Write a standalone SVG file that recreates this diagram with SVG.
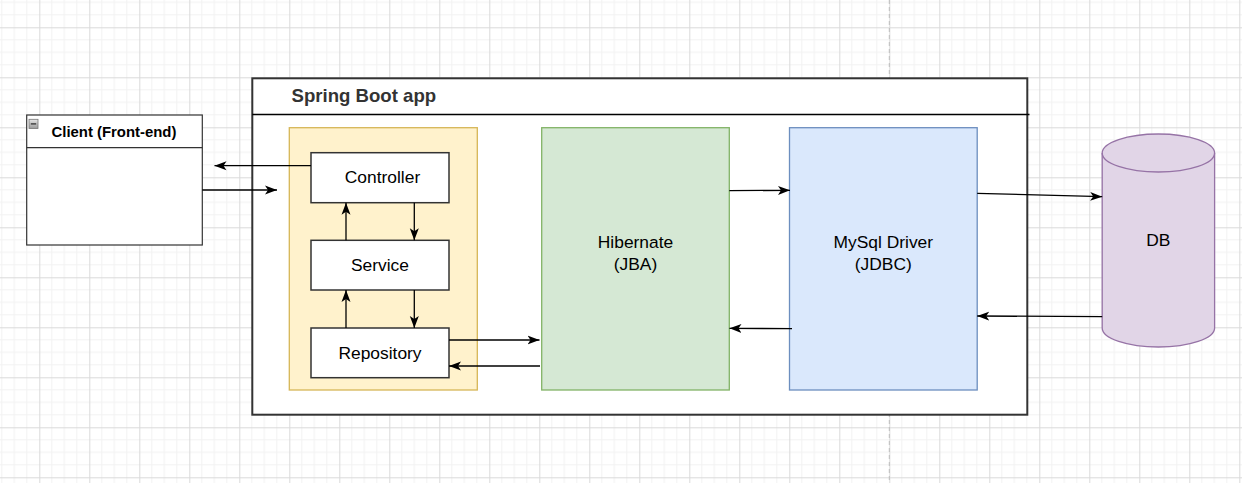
<svg xmlns="http://www.w3.org/2000/svg" width="1242" height="483" viewBox="0 0 1242 483">
  <style>
    .lbl { font-family: "Liberation Sans", Arial, sans-serif; font-size: 17.4px; fill: #000; text-anchor: middle; }
    .box { fill: #fff; stroke: #333; stroke-width: 1.5; }
    .edge { fill: none; stroke: #000; stroke-width: 1.3; marker-end: url(#arr); }
  </style>
  <defs>
    <pattern id="grid" x="39.3" y="27.3" width="50" height="50" patternUnits="userSpaceOnUse">
      <rect width="50" height="50" fill="#fff"/>
      <path d="M12.5,0V50M25,0V50M37.5,0V50M0,12.5H50M0,25H50M0,37.5H50" stroke="#f2f2f2" stroke-width="1"/>
      <path d="M0.5,0V50M0,0.5H50" stroke="#dadada" stroke-width="1"/>
    </pattern>
    <marker id="arr" markerUnits="userSpaceOnUse" markerWidth="13" markerHeight="10" viewBox="0 0 13 10" refX="12" refY="5" orient="auto">
      <path d="M0,0.5 L12,5 L0,9.5 L3,5 Z" fill="#000"/>
    </marker>
    <linearGradient id="ico" x1="0" y1="0" x2="0" y2="1">
      <stop offset="0" stop-color="#e6e6e6"/>
      <stop offset="1" stop-color="#9a9a9a"/>
    </linearGradient>
  </defs>

  <rect x="0" y="0" width="1242" height="483" fill="url(#grid)"/>
  <line x1="889.3" y1="0" x2="889.3" y2="483" stroke="#bdbdbd" stroke-width="1" stroke-dasharray="4 3"/>

  <g id="client">
    <rect x="26.7" y="115" width="175.6" height="130" fill="#fff" stroke="#333" stroke-width="1.2"/>
    <line x1="26.7" y1="147.7" x2="202.3" y2="147.7" stroke="#333" stroke-width="1.2"/>
    <rect x="29" y="119.3" width="9" height="9.2" fill="url(#ico)" stroke="#777" stroke-width="0.8"/>
    <line x1="30.8" y1="123.9" x2="36.2" y2="123.9" stroke="#333" stroke-width="1.3"/>
    <text x="51.5" y="137" style="font-family:'Liberation Sans',Arial,sans-serif;font-size:14.9px;font-weight:bold;fill:#000">Client (Front-end)</text>
  </g>

  <g id="springboot">
    <rect x="252.3" y="78.3" width="775" height="336.4" fill="#fff" stroke="#333" stroke-width="2"/>
    <line x1="252.3" y1="114.5" x2="1029.5" y2="114.5" stroke="#000" stroke-width="1.5"/>
    <text x="291.5" y="102.3" style="font-family:'Liberation Sans',Arial,sans-serif;font-size:18.6px;font-weight:bold;fill:#333">Spring Boot app</text>
  </g>

  <g id="layer">
    <rect x="289.3" y="127.7" width="188" height="262.3" fill="#fff2cc" stroke="#d6b656" stroke-width="1.3"/>
  </g>

  <g id="controller">
    <rect class="box" x="311" y="152.7" width="138" height="50"/>
    <text class="lbl" x="382.5" y="183.3">Controller</text>
  </g>
  <g id="service">
    <rect class="box" x="311" y="240.3" width="138" height="49.7"/>
    <text class="lbl" x="380" y="271">Service</text>
  </g>
  <g id="repository">
    <rect class="box" x="311" y="328" width="138" height="49.7"/>
    <text class="lbl" x="380" y="358.5">Repository</text>
  </g>

  <g id="hibernate">
    <rect x="541.7" y="127.7" width="187.6" height="262.3" fill="#d5e8d4" stroke="#82b366" stroke-width="1.3"/>
    <text class="lbl" x="635.5" y="248.3">Hibernate</text>
    <text class="lbl" x="635.5" y="270">(JBA)</text>
  </g>

  <g id="mysql">
    <rect x="789.5" y="127.7" width="187.7" height="262.3" fill="#dae8fc" stroke="#6c8ebf" stroke-width="1.3"/>
    <text class="lbl" x="883.3" y="248.3">MySql Driver</text>
    <text class="lbl" x="883.3" y="270">(JDBC)</text>
  </g>

  <g id="db">
    <path d="M1102.2,153 A56.2,19 0 0,1 1214.6,153 V328 A56.2,19 0 0,1 1102.2,328 Z" fill="#e1d5e7" stroke="#9673a6" stroke-width="1.3"/>
    <path d="M1102.2,153 A56.2,19 0 0,0 1214.6,153" fill="none" stroke="#9673a6" stroke-width="1.3"/>
    <text class="lbl" x="1158.4" y="246">DB</text>
  </g>

  <g id="connectors">
    <line class="edge" x1="311" y1="165.7" x2="214.5" y2="165.7"/>
    <line class="edge" x1="202.3" y1="190" x2="277" y2="190"/>
    <line class="edge" x1="414.3" y1="202.7" x2="414.3" y2="240.3"/>
    <line class="edge" x1="346" y1="240.3" x2="346" y2="202.7"/>
    <line class="edge" x1="414.3" y1="290" x2="414.3" y2="328"/>
    <line class="edge" x1="346" y1="328" x2="346" y2="290"/>
    <line class="edge" x1="449" y1="340" x2="539.5" y2="340"/>
    <line class="edge" x1="540" y1="366" x2="449" y2="366"/>
    <line class="edge" x1="729.3" y1="190.7" x2="790" y2="190.3"/>
    <line class="edge" x1="792" y1="328.7" x2="729.5" y2="328.3"/>
    <line class="edge" x1="977.2" y1="193.3" x2="1102.2" y2="196.7"/>
    <line class="edge" x1="1102.2" y1="316.7" x2="977.2" y2="316"/>
  </g>
</svg>
